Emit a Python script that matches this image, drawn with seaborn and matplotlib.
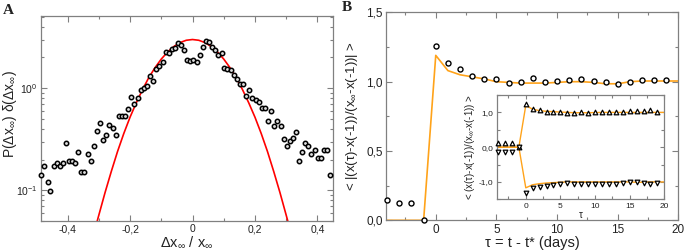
import matplotlib
matplotlib.use("Agg")
import matplotlib.pyplot as plt
import seaborn as sns
from matplotlib.ticker import FixedLocator, MultipleLocator, LogLocator, NullFormatter

# ---- panel A : distribution of relative jumps (log scale) ----
dx = [-0.484, -0.475, -0.464, -0.455, -0.444, -0.434, -0.424, -0.415, -0.404, -0.396,
      -0.386, -0.376, -0.366, -0.356, -0.346, -0.336, -0.326, -0.316, -0.306, -0.296,
      -0.286, -0.276, -0.266, -0.256, -0.246, -0.236, -0.226, -0.216, -0.206, -0.196,
      -0.186, -0.176, -0.166, -0.156, -0.146, -0.136, -0.126, -0.116, -0.106, -0.096,
      -0.086, -0.076, -0.066, -0.056, -0.046, -0.036, -0.027, -0.017, -0.007, 0.003,
      0.013, 0.023, 0.033, 0.043, 0.053, 0.063, 0.073, 0.083, 0.093, 0.102,
      0.112, 0.122, 0.132, 0.142, 0.152, 0.162, 0.172, 0.182, 0.192, 0.202,
      0.212, 0.222, 0.232, 0.242, 0.252, 0.262, 0.272, 0.282, 0.292, 0.302,
      0.312, 0.322, 0.332, 0.341, 0.351, 0.361, 0.371, 0.381, 0.391, 0.401,
      0.411, 0.421, 0.431, 0.441]
p_dx = [0.141, 0.173, 0.120, 0.098, 0.174, 0.185, 0.173, 0.185, 0.292, 0.195,
        0.195, 0.185, 0.239, 0.152, 0.152, 0.228, 0.195, 0.271, 0.383, 0.455,
        0.313, 0.345, 0.432, 0.410, 0.345, 0.529, 0.529, 0.529, 0.623, 0.829,
        0.708, 0.811, 0.970, 1.00, 1.06, 1.31, 1.17, 1.55, 1.64, 1.81,
        2.28, 2.23, 2.42, 2.50, 2.75, 2.67, 2.35, 1.91, 1.85, 1.89,
        1.82, 2.13, 2.52, 2.88, 2.82, 2.55, 2.39, 2.13, 2.23, 1.57,
        1.53, 1.50, 1.36, 1.23, 1.09, 1.10, 0.848, 0.955, 0.798, 0.775,
        0.730, 0.647, 0.647, 0.480, 0.601, 0.422, 0.476, 0.422, 0.315, 0.271,
        0.303, 0.327, 0.369, 0.195, 0.239, 0.292, 0.271, 0.226, 0.250, 0.206,
        0.206, 0.250, 0.250, 0.141]
# gaussian fit
fit_x = [-0.31, -0.30, -0.28, -0.26, -0.24, -0.22, -0.20, -0.18, -0.16, -0.14, -0.12,
         -0.10, -0.08, -0.06, -0.04, -0.02, 0.0, 0.02, 0.04, 0.06, 0.08, 0.10,
         0.12, 0.14, 0.16, 0.18, 0.20, 0.22, 0.24, 0.26, 0.28, 0.30, 0.31]
fit_y = [0.044, 0.057, 0.095, 0.153, 0.24, 0.36, 0.52, 0.72, 0.97, 1.27, 1.59,
         1.93, 2.26, 2.56, 2.80, 2.95, 3.0, 2.95, 2.80, 2.56, 2.26, 1.93,
         1.59, 1.27, 0.97, 0.72, 0.52, 0.36, 0.24, 0.153, 0.095, 0.057, 0.044]
a_xticks = [-0.4, -0.2, 0.0, 0.2, 0.4]
a_xticklabels = ["-0,4", "-0,2", "0", "0,2", "0,4"]
a_yticks = [0.1, 1.0]
a_yticklabels = ["10$^{-1}$", "10$^{0}$"]

# ---- panel B : mean absolute normalised change vs tau ----
tau = [-4, -3, -2, -1, 0, 1, 2, 3, 4, 5, 6, 7, 8, 9, 10, 11, 12, 13, 14, 15, 16, 17, 18, 19]
abs_ratio = [0.147, 0.127, 0.125, 0.0, 1.26, 1.135, 1.09, 1.04, 1.02, 1.02, 0.988, 1.0,
             1.03, 0.995, 1.005, 1.01, 1.02, 1.005, 0.995, 0.986, 1.0, 1.01, 1.01, 1.01]
tau_line = [-4, -3, -2, -1, 0, 1, 2, 3, 4, 5, 6, 7, 8, 9, 10, 11, 12, 13, 14, 15, 16, 17, 18, 19, 20]
abs_model = [0.0, 0.0, 0.0, 0.0, 1.19, 1.08, 1.05, 1.035, 1.02, 1.0, 0.995, 0.99, 0.99,
             0.99, 0.995, 1.0, 1.0, 0.995, 0.985, 0.985, 1.0, 1.005, 1.005, 1.005, 1.005]
b_yticks = [0.0, 0.5, 1.0, 1.5]
b_yticklabels = ["0,0", "0,5", "1,0", "1,5"]
b_xticks = [0, 5, 10, 15, 20]

# inset: signed change, up / down jumps
up_ratio = [0.13, 0.13, 0.13, 0.0, 1.23, 1.106, 1.06, 1.02, 1.0, 1.0, 0.98, 0.97,
            1.01, 0.99, 1.0, 1.0, 1.01, 1.01, 1.01, 1.03, 1.03, 1.04, 1.07, 1.01]
down_ratio = [-0.13, -0.13, -0.13, 0.0, -1.31, -1.18, -1.15, -1.12, -1.09, -1.07, -1.04, -1.07,
              -1.07, -1.07, -1.07, -1.07, -1.07, -1.05, -1.02, -1.01, -1.01, -1.03, -1.05, -1.03]
up_model = [0.0, 0.0, 0.0, 0.0, 1.2, 1.09, 1.05, 1.03, 1.02, 1.01, 1.0, 0.99, 0.99,
            0.99, 0.995, 1.0, 1.0, 1.0, 1.0, 1.0, 1.0, 1.0, 1.0, 1.0, 1.0]
down_model = [0.0, 0.0, 0.0, 0.0, -1.17, -1.08, -1.05, -1.03, -1.02, -1.01, -1.0, -1.0, -1.0,
              -1.0, -1.0, -1.0, -1.0, -1.0, -1.0, -1.0, -1.01, -1.01, -1.0, -1.0, -1.0]
in_yticks = [-1.0, 0.0, 1.0]
in_yticklabels = ["-1,0", "0,0", "1,0"]

sns.set_style("ticks")
plt.rcParams["font.family"] = ["Liberation Sans", "DejaVu Sans"]
plt.rcParams["mathtext.fontset"] = "custom"
plt.rcParams["mathtext.rm"] = "Liberation Sans"
plt.rcParams["mathtext.it"] = "Liberation Sans:italic"

SPINE = "#808080"
TXT = "#222222"
ORANGE = "#ffa31a"


def style_axes(ax, lsize, major=4, minor=2.4):
    for s in ax.spines.values():
        s.set_visible(True)
        s.set_color(SPINE)
        s.set_linewidth(0.9)
    ax.tick_params(which="both", direction="in", top=True, right=True,
                   color=SPINE, labelcolor=TXT, labelsize=lsize, width=0.8)
    ax.tick_params(which="major", length=major, pad=2.5)
    ax.tick_params(which="minor", length=minor)


fig = plt.figure(figsize=(6.85, 2.52), dpi=100)

# panel A
axA = fig.add_axes([0.0599, 0.123, 0.4263, 0.8135])
sns.lineplot(x=fit_x, y=fit_y, ax=axA, color="red", linewidth=1.2, sort=False, estimator=None)
sns.scatterplot(x=dx, y=p_dx, ax=axA, marker="o", s=10, color="#dddddd",
                edgecolor="black", linewidth=1.1, clip_on=False, zorder=3)
axA.set_yscale("log")
axA.set_xlim(-0.485, 0.45)
axA.set_ylim(0.05, 5.1)
axA.xaxis.set_major_locator(FixedLocator(a_xticks))
axA.set_xticklabels(a_xticklabels)
axA.xaxis.set_minor_locator(MultipleLocator(0.1))
axA.yaxis.set_major_locator(FixedLocator(a_yticks))
axA.set_yticklabels(a_yticklabels)
axA.yaxis.set_minor_locator(LogLocator(base=10, subs=[2, 3, 4, 5, 6, 7, 8, 9]))
axA.yaxis.set_minor_formatter(NullFormatter())
style_axes(axA, 7.5)
axA.set_xlabel("Δx$_{\\infty}$ / x$_{\\infty}$", fontsize=10.5, color=TXT, labelpad=0)
axA.set_ylabel("P(Δx$_{\\infty}$) δ(Δx$_{\\infty}$)", fontsize=10, color=TXT)
axA.yaxis.set_label_coords(-0.075, 0.52)

# panel B
axB = fig.add_axes([0.5635, 0.1258, 0.427, 0.825])
sns.lineplot(x=tau_line, y=abs_model, ax=axB, color=ORANGE, linewidth=1.2, sort=False, estimator=None)
sns.scatterplot(x=tau, y=abs_ratio, ax=axB, marker="o", s=13, color="white",
                edgecolor="black", linewidth=1.0, clip_on=False, zorder=3)
axB.set_xlim(-4.1, 20)
axB.set_ylim(0, 1.5)
axB.xaxis.set_major_locator(FixedLocator(b_xticks))
axB.xaxis.set_minor_locator(MultipleLocator(2.5))
axB.yaxis.set_major_locator(FixedLocator(b_yticks))
axB.set_yticklabels(b_yticklabels)
axB.yaxis.set_minor_locator(MultipleLocator(0.25))
style_axes(axB, 8.5)
axB.set_xlabel("τ = t - t* (days)", fontsize=10.5, color=TXT, labelpad=0)
axB.set_ylabel("< |(x(τ)-x(-1))/(x$_{\\infty}$-x(-1))| >", fontsize=9.5, color=TXT, labelpad=4)

# inset
axI = fig.add_axes([0.7251, 0.2091, 0.2447, 0.4139])
sns.lineplot(x=tau_line, y=up_model, ax=axI, color=ORANGE, linewidth=1.0, sort=False, estimator=None)
sns.lineplot(x=tau_line, y=down_model, ax=axI, color=ORANGE, linewidth=1.0, sort=False, estimator=None)
sns.scatterplot(x=tau, y=up_ratio, ax=axI, marker="^", s=11, color="white",
                edgecolor="black", linewidth=0.9, clip_on=False, zorder=3)
sns.scatterplot(x=tau, y=down_ratio, ax=axI, marker="v", s=11, color="white",
                edgecolor="black", linewidth=0.9, clip_on=False, zorder=3)
axI.set_xlim(-4.2, 20)
axI.set_ylim(-1.5, 1.5)
axI.xaxis.set_major_locator(FixedLocator(b_xticks))
axI.xaxis.set_minor_locator(MultipleLocator(2.5))
axI.yaxis.set_major_locator(FixedLocator(in_yticks))
axI.set_yticklabels(in_yticklabels)
axI.yaxis.set_minor_locator(MultipleLocator(0.5))
style_axes(axI, 6, major=3, minor=2)
axI.set_xlabel("τ", fontsize=7, color=TXT, labelpad=0)
axI.set_ylabel("< (x(τ)-x(-1))/(x$_{\\infty}$-x(-1)) >", fontsize=7, color=TXT, labelpad=1)

fig.text(0.004, 0.985, "A", fontsize=11, fontweight="bold", family="Liberation Serif", va="top", color=TXT)
fig.text(0.499, 0.995, "B", fontsize=11, fontweight="bold", family="Liberation Serif", va="top", color=TXT)

fig.savefig("out.png", dpi=100)
